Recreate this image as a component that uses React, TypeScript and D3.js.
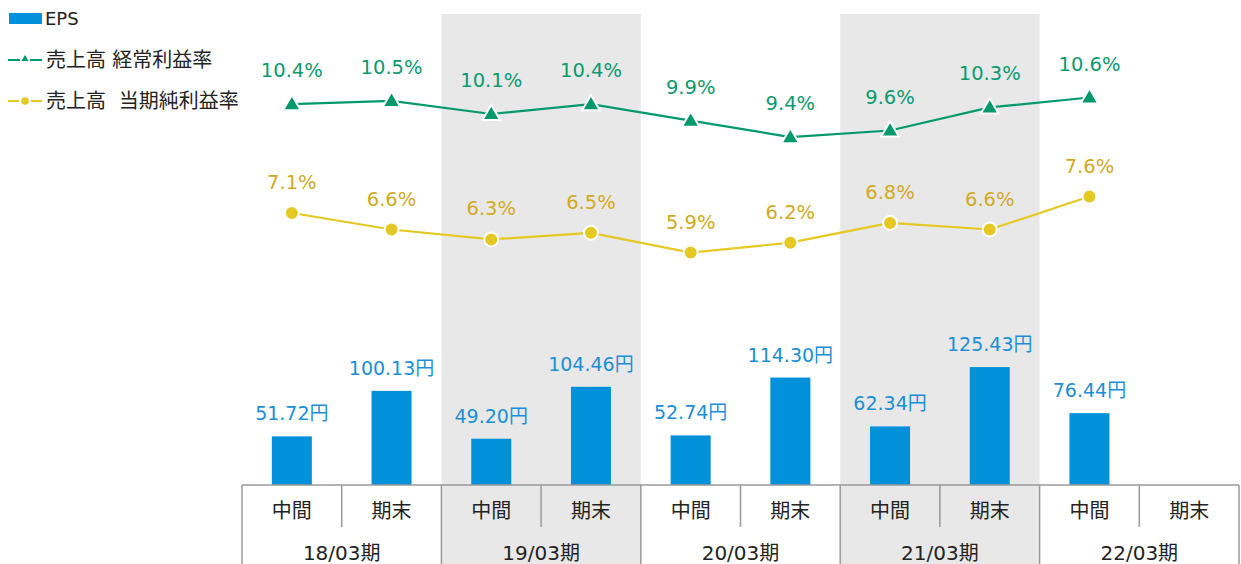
import React from 'react';
import * as d3 from 'd3';

const periods = ['18/03期', '19/03期', '20/03期', '21/03期', '22/03期'];
const halves = ['中間', '期末'];
const eps: (number | null)[] = [51.72, 100.13, 49.2, 104.46, 52.74, 114.3, 62.34, 125.43, 76.44, null];
const ordinaryMargin: (number | null)[] = [10.4, 10.5, 10.1, 10.4, 9.9, 9.4, 9.6, 10.3, 10.6, null];
const netMargin: (number | null)[] = [7.1, 6.6, 6.3, 6.5, 5.9, 6.2, 6.8, 6.6, 7.6, null];
const shadedPeriods = ['19/03期', '21/03期'];

const FONT = "'DejaVu Sans', 'Noto Sans CJK JP', sans-serif";
const BLUE = '#0091da';
const BLUE_TEXT = '#1a8fd6';
const GREEN = '#00996b';
const GREEN_TEXT = '#0b9a6f';
const YELLOW = '#e5c822';
const YELLOW_TEXT = '#d3aa1f';
const GRID = '#9a9a9a';
const SHADE = '#e8e8e8';

export default function App() {
  const W = 1241, H = 564;
  const left = 242, right = 1239;
  const axisY = 485;
  const cats = periods.flatMap(p => halves.map(h => `${p}|${h}`));
  const x = d3.scaleBand<string>().domain(cats).range([left, right]).paddingInner(0).paddingOuter(0);
  const bw = x.bandwidth();
  const barW = 40;
  const yBar = d3.scaleLinear().domain([0, 140]).range([axisY, axisY - 131.6]);
  const yPct = d3.scaleLinear().domain([0, 12]).range([447.3, 51.3]);
  const cx = (i: number) => (x(cats[i]) as number) + bw / 2;

  const lineGen = d3.line<[number, number]>().x(d => d[0]).y(d => d[1]);
  const ordPts: [number, number][] = ordinaryMargin.map((v, i) => (v == null ? null : [cx(i), yPct(v)] as [number, number])).filter(Boolean) as [number, number][];
  const netPts: [number, number][] = netMargin.map((v, i) => (v == null ? null : [cx(i), yPct(v)] as [number, number])).filter(Boolean) as [number, number][];
  const tri = d3.symbol().type(d3.symbolTriangle).size(135)();

  return (
    <svg width={W} height={H} style={{ position: 'absolute', left: 0, top: 0, display: 'block' }} fontFamily={FONT}>
      <rect x={0} y={0} width={W} height={H} fill="#fff" />
      {/* shaded bands */}
      {periods.map(p => shadedPeriods.includes(p) ? (
        <rect key={'s' + p} x={x(`${p}|${halves[0]}`)} y={14} width={bw * 2} height={H - 14} fill={SHADE} />
      ) : null)}

      {/* bars */}
      {eps.map((v, i) => v == null ? null : (
        <g key={'b' + i}>
          <rect x={cx(i) - barW / 2} y={yBar(v)} width={barW} height={axisY - yBar(v)} fill={BLUE} />
          <text x={cx(i)} y={yBar(v) - 16} textAnchor="middle" fontSize={19} fill={BLUE_TEXT}>{v.toFixed(2)}円</text>
        </g>
      ))}

      {/* lines */}
      <path d={lineGen(ordPts) || ''} fill="none" stroke={GREEN} strokeWidth={2.2} />
      <path d={lineGen(netPts) || ''} fill="none" stroke={YELLOW} strokeWidth={2.2} />
      {ordPts.map((p, i) => (
        <g key={'o' + i}>
          <path d={tri || ''} transform={`translate(${p[0]},${p[1] + 1})`} fill={GREEN} stroke="#fff" strokeWidth={2} />
          <text x={p[0]} y={p[1] - 27} textAnchor="middle" fontSize={19.5} fill={GREEN_TEXT}>{(ordinaryMargin[i] as number).toFixed(1)}%</text>
        </g>
      ))}
      {netPts.map((p, i) => (
        <g key={'n' + i}>
          <circle cx={p[0]} cy={p[1]} r={7} fill={YELLOW} stroke="#fff" strokeWidth={2} />
          <text x={p[0]} y={p[1] - 24} textAnchor="middle" fontSize={19.5} fill={YELLOW_TEXT}>{(netMargin[i] as number).toFixed(1)}%</text>
        </g>
      ))}

      {/* category table */}
      <line x1={left} x2={right} y1={axisY} y2={axisY} stroke={GRID} strokeWidth={1.5} />
      {cats.map((c, i) => {
        const x0 = x(c) as number;
        const isGroupStart = i % 2 === 0;
        return (
          <g key={'c' + c}>
            <line x1={x0} x2={x0} y1={axisY} y2={isGroupStart ? H : 527} stroke={GRID} strokeWidth={1.5} />
            <text x={x0 + bw / 2} y={518} textAnchor="middle" fontSize={20} fill="#222">{c.split('|')[1]}</text>
          </g>
        );
      })}
      <line x1={right} x2={right} y1={axisY} y2={H} stroke={GRID} strokeWidth={1.5} />
      {periods.map(p => (
        <text key={'p' + p} x={(x(`${p}|${halves[0]}`) as number) + bw} y={560} textAnchor="middle" fontSize={20} fill="#222">{p}</text>
      ))}

      {/* legend */}
      <rect x={9} y={13} width={33} height={11} fill={BLUE} />
      <text x={45} y={25} fontSize={18} fill="#222">EPS</text>
      <line x1={8} x2={20} y1={60} y2={60} stroke={GREEN} strokeWidth={2} />
      <line x1={30} x2={42} y1={60} y2={60} stroke={GREEN} strokeWidth={2} />
      <path d={d3.symbol().type(d3.symbolTriangle).size(22)() || ''} transform="translate(25,59)" fill={GREEN} />
      <text x={46} y={67} fontSize={20} fill="#222">売上高 経常利益率</text>
      <line x1={8} x2={19} y1={101} y2={101} stroke={YELLOW} strokeWidth={2} />
      <line x1={31} x2={42} y1={101} y2={101} stroke={YELLOW} strokeWidth={2} />
      <circle cx={25} cy={101} r={3.8} fill={YELLOW} />
      <text x={46} y={108} fontSize={20} fill="#222" style={{ whiteSpace: 'pre' }}>{'売上高  当期純利益率'}</text>
    </svg>
  );
}
